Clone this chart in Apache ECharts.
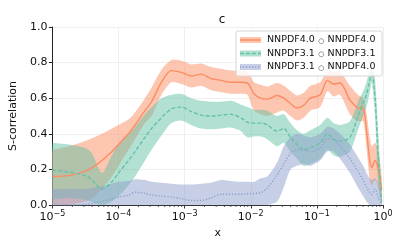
<!DOCTYPE html>
<html><head><meta charset="utf-8">
<script src="https://cdn.jsdelivr.net/npm/echarts@6/dist/echarts.min.js"></script>
<style>html,body{margin:0;padding:0;background:#fff}#c{width:407px;height:250px}</style>
</head><body><div id="c"></div>
<script>
// log10(x) grid
const logX = [-5,-4.75,-4.5,-4.4,-4.25,-4.1,-4.0,-3.85,-3.75,-3.6,-3.5,-3.35,-3.2,-3.05,-2.9,-2.75,-2.6,-2.45,-2.3,-2.15,-2.05,-1.95,-1.85,-1.75,-1.6,-1.5,-1.4,-1.3,-1.2,-1.1,-0.95,-0.84,-0.75,-0.65,-0.5,-0.38,-0.3,-0.25,-0.2,-0.17,-0.12,-0.07,-0.02];

const n40Mid = [0.16,0.165,0.19,0.21,0.25,0.30,0.34,0.40,0.45,0.53,0.58,0.69,0.755,0.745,0.725,0.735,0.71,0.70,0.69,0.69,0.685,0.625,0.60,0.595,0.615,0.60,0.57,0.545,0.56,0.60,0.62,0.70,0.68,0.685,0.59,0.545,0.54,0.42,0.25,0.21,0.25,0.20,0.085];
const n40Up  = [0.31,0.33,0.36,0.375,0.40,0.43,0.45,0.48,0.52,0.60,0.66,0.76,0.815,0.81,0.79,0.795,0.775,0.765,0.755,0.755,0.75,0.69,0.675,0.665,0.685,0.67,0.64,0.615,0.63,0.67,0.69,0.76,0.75,0.75,0.67,0.62,0.60,0.52,0.38,0.33,0.35,0.30,0.16];
const n40Lo  = [0.0,0.0,0.02,0.04,0.09,0.16,0.22,0.31,0.37,0.46,0.50,0.62,0.69,0.68,0.66,0.67,0.645,0.635,0.625,0.625,0.62,0.53,0.51,0.50,0.52,0.53,0.50,0.475,0.49,0.53,0.55,0.64,0.61,0.62,0.51,0.47,0.47,0.32,0.14,0.11,0.14,0.10,0.02];

const n31Mid = [0.195,0.185,0.165,0.14,0.09,0.13,0.18,0.25,0.30,0.38,0.43,0.49,0.54,0.55,0.525,0.505,0.50,0.505,0.51,0.49,0.465,0.46,0.46,0.45,0.415,0.43,0.38,0.34,0.31,0.32,0.35,0.40,0.37,0.36,0.38,0.50,0.57,0.62,0.70,0.75,0.60,0.25,0.02];
const n31Up  = [0.35,0.34,0.32,0.29,0.18,0.28,0.34,0.40,0.44,0.51,0.55,0.60,0.62,0.625,0.60,0.585,0.58,0.58,0.585,0.565,0.55,0.535,0.535,0.53,0.50,0.51,0.46,0.42,0.40,0.42,0.45,0.49,0.46,0.45,0.47,0.58,0.64,0.69,0.76,0.80,0.70,0.40,0.08];
const n31Lo  = [0.04,0.04,0.03,0.015,0.0,0.02,0.05,0.11,0.16,0.25,0.31,0.39,0.46,0.475,0.45,0.43,0.425,0.43,0.435,0.415,0.38,0.385,0.385,0.37,0.33,0.35,0.30,0.26,0.22,0.23,0.26,0.31,0.28,0.27,0.30,0.42,0.50,0.55,0.63,0.69,0.50,0.10,0.0];

const mixMid = [0.0,0.0,0.003,0.008,0.02,0.035,0.045,0.055,0.072,0.065,0.056,0.05,0.045,0.035,0.025,0.025,0.04,0.06,0.06,0.06,0.063,0.065,0.07,0.095,0.17,0.23,0.29,0.31,0.31,0.30,0.32,0.37,0.37,0.33,0.26,0.19,0.14,0.10,0.07,0.06,0.09,0.04,0.0];
const mixUp  = [0.09,0.09,0.09,0.095,0.105,0.12,0.13,0.135,0.145,0.14,0.13,0.125,0.12,0.115,0.115,0.12,0.125,0.14,0.135,0.13,0.13,0.13,0.15,0.16,0.24,0.33,0.38,0.40,0.39,0.38,0.40,0.44,0.43,0.40,0.34,0.27,0.22,0.18,0.15,0.14,0.15,0.12,0.04];
const mixLo  = [0,0,0,0,0,0,0,0,0,0,0,0,0,0,0,0,0,0,0,0,0,0,0,0,0.02,0.10,0.20,0.22,0.23,0.22,0.25,0.30,0.30,0.26,0.18,0.10,0.05,0.02,0,0,0,0,0];

const legendLabels = ['NNPDF4.0 \u25CB NNPDF4.0','NNPDF3.1 \u25CB NNPDF3.1','NNPDF3.1 \u25CB NNPDF4.0'];

const FONT = 'DejaVu Sans';
const C40 = '#fc8d62', C31 = '#66c2a5', CMX = '#8da0cb';
const xs = logX.map(l => Math.pow(10, l));
const pts = arr => arr.map((v,i)=>[xs[i], v]);

function bandSeries(name, lo, up, color){
  return {type:'custom', name:name, data:[[xs[0], lo[0]]], clip:true, silent:true, z:2,
    renderItem:(params, api)=>{
      const top = up.map((v,i)=>api.coord([xs[i], v]));
      const bot = lo.map((v,i)=>api.coord([xs[i], v])).reverse();
      return {type:'group', children:[
        {type:'polyline', shape:{points:top.concat(bot).concat([top[0]]), smooth:0.25}, style:{fill:color, opacity:0.5, stroke:null}}
      ]};
    }};
}
function lineSeries(name, mid, color, type){
  return {type:'line', name:name, data:pts(mid), symbol:'none', smooth:0.3,
    lineStyle:{color:color, width:1.4, type:type}, z:3};
}
// minor log ticks (axis decoration)
const minor = [];
for (let d=-5; d<0; d++) for (let k=2; k<10; k++) minor.push([k*Math.pow(10,d)]);

const chart = echarts.init(document.getElementById('c'), null, {renderer:'canvas'});
const option = {
  animation:false,
  title:{text:'c', left:217, top:9, textAlign:'center', textStyle:{fontFamily:FONT, fontSize:12, fontWeight:'normal', color:'#111'}},
  grid:{left:50, right:24, top:27, bottom:45},
  xAxis:{type:'log', logBase:10, min:1e-5, max:1,
    name:'x', nameLocation:'middle', nameGap:23, nameTextStyle:{fontFamily:FONT, fontSize:11, color:'#111'},
    axisLine:{lineStyle:{color:'#333', width:1}},
    axisTick:{length:3.5, lineStyle:{color:'#333'}},
    splitLine:{show:true, lineStyle:{color:'#ebebeb', width:0.8}},
    axisLabel:{margin:5, color:'#111', formatter:v=>{const e=Math.round(Math.log10(v)); return '{b|10}{s|'+(e<0?'\u2212'+(-e):e)+'}';},
      rich:{b:{fontFamily:FONT, fontSize:11, color:'#111'}, s:{fontFamily:FONT, fontSize:8, color:'#111', padding:[0,0,7,0]}}}
  },
  yAxis:{type:'value', min:0, max:1, interval:0.2,
    name:'S-correlation', nameLocation:'middle', nameGap:33, nameTextStyle:{fontFamily:FONT, fontSize:11, color:'#111'},
    axisLine:{show:true, lineStyle:{color:'#222', width:1}},
    axisTick:{show:true, length:3.5, lineStyle:{color:'#222'}},
    splitLine:{show:true, lineStyle:{color:'#ebebeb', width:0.8}},
    axisLabel:{fontFamily:FONT, fontSize:11, color:'#111', margin:5, formatter:v=>v.toFixed(1)}
  },
  series:[
    bandSeries('n40band', n40Lo, n40Up, C40),
    lineSeries(legendLabels[0], n40Mid, C40, 'solid'),
    bandSeries('n31band', n31Lo, n31Up, C31),
    lineSeries(legendLabels[1], n31Mid, C31, [4,2]),
    bandSeries('mixband', mixLo, mixUp, CMX),
    lineSeries(legendLabels[2], mixMid, CMX, [1.2,1.8]),
    {type:'custom', data:minor, clip:false, silent:true, z:5,
     renderItem:(params, api)=>{const p=api.coord([api.value(0),0]);
       return {type:'line', shape:{x1:p[0], y1:p[1], x2:p[0], y2:p[1]+2}, style:{stroke:'#333', lineWidth:0.8}};}}
  ]
};
chart.setOption(option);

// legend box (drawn manually to show band patch + line style)
const lx = 236, ly = 31, rowH = 13.5;
const styles = [[C40,null],[C31,[4,2]],[CMX,[1.2,1.8]]];
const els = [{type:'rect', shape:{x:lx, y:ly, width:146, height:45, r:2}, style:{fill:'rgba(255,255,255,0.85)', stroke:'#d6d6d6', lineWidth:1}, z:100}];
legendLabels.forEach((t,i)=>{
  const cy = ly + 9 + i*rowH;
  const parts = t.split(' \u25CB ');
  els.push({type:'rect', shape:{x:lx+4, y:cy-3, width:21, height:6}, style:{fill:styles[i][0], opacity:0.5}, z:101});
  els.push({type:'line', shape:{x1:lx+4, y1:cy, x2:lx+25, y2:cy}, style:{stroke:styles[i][0], lineWidth:1.4, lineDash:styles[i][1]}, z:102});
  els.push({type:'text', x:lx+31, y:cy, style:{text:'{a|'+parts[0]+'} {o|\u25CB} {a|'+parts[1]+'}',
    rich:{a:{fontFamily:FONT, fontSize:9.5, fill:'#111'}, o:{fontFamily:FONT, fontSize:7, fill:'#111', padding:[2,0,0,0]}},
    verticalAlign:'middle', textAlign:'left'}, z:102});
});
chart.setOption({graphic:{elements:els}});
</script></body></html>
